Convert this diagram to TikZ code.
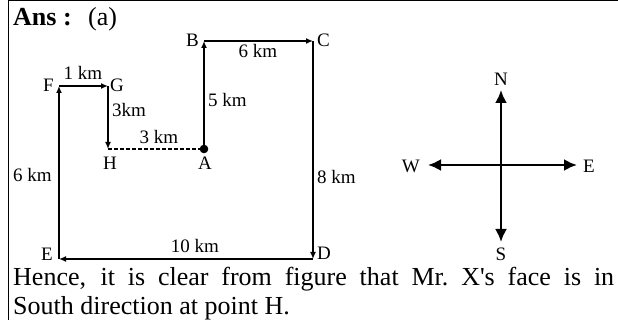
\documentclass[tikz,border=0pt]{standalone}
\usepackage{fontspec}
\setmainfont{Liberation Serif}
\usetikzlibrary{arrows.meta}
\begin{document}
\begin{tikzpicture}[x=1pt,y=-1pt,
  seg/.style={line width=2.4pt,-{Latex[length=7pt,width=6pt]}},
  cmp/.style={line width=2.4pt,-{Latex[length=13pt,width=12pt]}},
  lbl/.style={inner sep=0pt,font=\fontsize{19}{22}\selectfont},
  big/.style={inner sep=0pt,font=\fontsize{26}{30}\selectfont},
]
\useasboundingbox (0,0) rectangle (618,320);
\draw[line width=1.5pt] (8.5,320) -- (8.5,0.75) -- (618,0.75);

\node[big,anchor=base west] (ans) at (13,26) {\textbf{Ans :}};
\node[big,anchor=base west] (opt) at (88,26) {(a)};

\coordinate (A) at (204,149);
\coordinate (B) at (204,41);
\coordinate (C) at (313,41);
\coordinate (D) at (313,259);
\coordinate (E) at (59,259);
\coordinate (F) at (59,86);
\coordinate (G) at (108,86);
\coordinate (H) at (108,149);

\draw[seg] (A) -- (B);
\draw[seg] (B) -- (C);
\draw[seg] (C) -- (D);
\draw[seg] (D) -- (E);
\draw[seg] (E) -- (F);
\draw[seg] (F) -- (G);
\draw[seg] (G) -- (H);
\draw[line width=2pt,dash pattern=on 4pt off 2pt] (H) -- (A);
\fill (A) circle (4.3pt);

\node[lbl,anchor=base east] (lB) at (199,47) {B};
\node[lbl,anchor=base west] (lC) at (317,47) {C};
\node[lbl,anchor=base] (lBC) at (258,58) {6 km};
\node[lbl,anchor=base west] (lAB) at (208,107) {5 km};
\node[lbl,anchor=base west] (lCD) at (317,184) {8 km};
\node[lbl,anchor=base] (lDE) at (195,253) {10 km};
\node[lbl,anchor=base east] (lE) at (53,261) {E};
\node[lbl,anchor=base west] (lD) at (317,260) {D};
\node[lbl,anchor=base west] (lEF) at (13,182) {6 km};
\node[lbl,anchor=base east] (lF) at (54,92) {F};
\node[lbl,anchor=base west] (lG) at (110,92) {G};
\node[lbl,anchor=base] (lFG) at (83,80) {1 km};
\node[lbl,anchor=base west] (lGH) at (112,117) {3km};
\node[lbl,anchor=base] (lHA) at (159,144) {3 km};
\node[lbl,anchor=base] (lH) at (110,170) {H};
\node[lbl,anchor=base] (lA) at (205,170) {A};

\coordinate (O) at (501,165);
\coordinate (Nt) at (501,90);
\coordinate (St) at (501,242);
\coordinate (Wt) at (428,165);
\coordinate (Et) at (577,165);
\draw[cmp] (O) -- (Nt);
\draw[cmp] (O) -- (St);
\draw[cmp] (O) -- (Wt);
\draw[cmp] (O) -- (Et);
\node[lbl,anchor=base] (lN) at (501,86) {N};
\node[lbl,anchor=base] (lS) at (501,261) {S};
\node[lbl,anchor=base east] (lW) at (420,173) {W};
\node[lbl,anchor=base west] (lEa) at (583,173) {E};

\node[big,anchor=base west] (t1) at (13,285) {\makebox[601pt][s]{Hence, it is clear from figure that Mr.\ X\textquotesingle s face is in}};
\node[big,anchor=base west] (t2) at (13,314) {South direction at point H.};
\end{tikzpicture}
\end{document}
